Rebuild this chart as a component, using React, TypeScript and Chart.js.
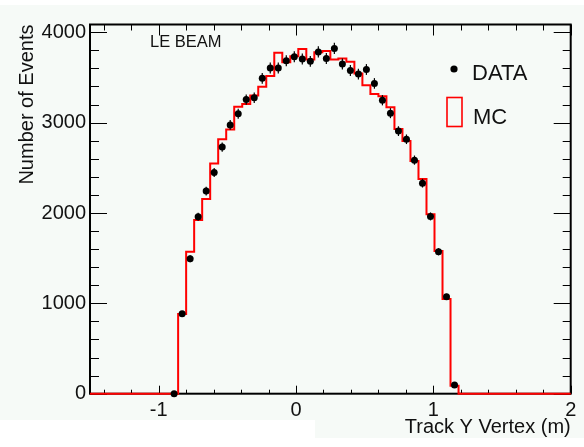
import React, { useEffect, useRef } from "react";
import { Chart, registerables } from "chart.js";

Chart.register(...registerables);

// ---- data ----
const X_MIN = -1.5;
const X_MAX = 2;
const N_BINS = 60;
const Y_MIN = 0;
const Y_MAX = 4086;
const X_TICKS = [-1, 0, 1, 2];
const Y_TICKS = [0, 1000, 2000, 3000, 4000];

// MC histogram: bin contents starting at bin index MC_FIRST_BIN (others are 0)
const MC_FIRST_BIN = 11;
const MC_COUNTS = [
  882, 1571, 1921, 2154, 2548, 2817, 2925, 3175, 3205, 3300,
  3396, 3515, 3772, 3668, 3736, 3815, 3699, 3780, 3794, 3699,
  3710, 3673, 3544, 3415, 3318, 3293, 3170, 2930, 2797, 2574,
  2375, 1987, 1578, 1048, 89,
];

// DATA points: bin contents starting at bin index DATA_FIRST_BIN
const DATA_FIRST_BIN = 10;
const DATA_COUNTS = [
  0, 885, 1493, 1958, 2242, 2449, 2729, 2975, 3098, 3255,
  3275, 3490, 3605, 3605, 3685, 3730, 3705, 3678, 3783, 3710,
  3821, 3648, 3577, 3537, 3588, 3434, 3248, 3105, 2906, 2816,
  2585, 2330, 1962, 1571, 1073, 96,
];

const LEGEND_LABELS = ["DATA", "MC"];
const PLOT_LABEL = "LE BEAM";
const X_TITLE = "Track Y Vertex (m)";
const Y_TITLE = "Number of Events";

// ---- styling ----
const W = 584;
const H = 447;
const FONT = "'Liberation Sans', Arial, Helvetica, sans-serif";
const TEXT = "#111111";
const RED = "#ff0000";
const BG = "rgb(246,250,247)";

const binWidth = (X_MAX - X_MIN) / N_BINS;

function mcPoints() {
  const pts: { x: number; y: number }[] = [];
  for (let k = 0; k < N_BINS; k++) {
    const i = k - MC_FIRST_BIN;
    const v = i >= 0 && i < MC_COUNTS.length ? MC_COUNTS[i] : 0;
    pts.push({ x: X_MIN + k * binWidth, y: v });
  }
  pts.push({ x: X_MAX, y: pts[pts.length - 1].y });
  return pts;
}

function dataPoints() {
  return DATA_COUNTS.map((v, i) => ({
    x: X_MIN + (DATA_FIRST_BIN + i + 0.5) * binWidth,
    y: v,
  }));
}

const framePlugin = {
  id: "rootFrame",
  beforeDatasetsDraw(chart: any) {
    const { ctx, chartArea: a, scales } = chart;
    const xs = scales.x;
    const ys = scales.y;
    ctx.save();
    ctx.strokeStyle = "#000";
    ctx.lineWidth = 1;
    for (let i = -7; i <= 10; i++) {
      const v = i * 0.2;
      const px = Math.round(xs.getPixelForValue(v)) + 0.5;
      const major = i % 5 === 0;
      ctx.beginPath();
      ctx.moveTo(px, a.bottom);
      ctx.lineTo(px, a.bottom - (major ? 8 : 4));
      ctx.moveTo(px, a.top);
      ctx.lineTo(px, a.top + (major ? 11 : 6));
      ctx.stroke();
    }
    for (let i = 0; i * 200 <= Y_MAX; i++) {
      const v = i * 200;
      const py = Math.round(ys.getPixelForValue(v)) + 0.5;
      const major = v % 1000 === 0;
      ctx.beginPath();
      ctx.moveTo(a.left, py);
      ctx.lineTo(a.left + (major ? 17 : 9), py);
      ctx.moveTo(a.right, py);
      ctx.lineTo(a.right - (major ? 17 : 8), py);
      ctx.stroke();
    }
    ctx.lineWidth = 2;
    ctx.strokeRect(a.left, a.top, a.right - a.left, a.bottom - a.top);
    ctx.restore();
  },
  afterDatasetDraw(chart: any, args: any) {
    if (args.index !== 1) return;
    const { ctx, scales } = chart;
    const meta = chart.getDatasetMeta(0);
    ctx.save();
    ctx.strokeStyle = "#000";
    ctx.lineWidth = 1.2;
    meta.data.forEach((pt: any, i: number) => {
      const v = DATA_COUNTS[i];
      if (v <= 0) return;
      const e = Math.sqrt(v);
      ctx.beginPath();
      ctx.moveTo(pt.x, scales.y.getPixelForValue(v + e));
      ctx.lineTo(pt.x, scales.y.getPixelForValue(v - e));
      ctx.stroke();
    });
    ctx.restore();
  },
  afterDraw(chart: any) {
    const { ctx } = chart;
    ctx.save();
    ctx.fillStyle = TEXT;
    ctx.textBaseline = "alphabetic";
    ctx.textAlign = "left";
    ctx.font = `16.5px ${FONT}`;
    ctx.fillText(PLOT_LABEL, 150, 47);
    ctx.font = `22px ${FONT}`;
    ctx.fillStyle = "#000";
    ctx.beginPath();
    ctx.arc(454, 69, 3.6, 0, Math.PI * 2);
    ctx.fill();
    ctx.fillStyle = TEXT;
    ctx.fillText(LEGEND_LABELS[0], 472, 80);
    ctx.strokeStyle = RED;
    ctx.lineWidth = 1.6;
    ctx.strokeRect(447, 97.5, 15, 29);
    ctx.fillText(LEGEND_LABELS[1], 473, 124);
    ctx.restore();
  },
};

export default function App() {
  const ref = useRef<HTMLCanvasElement | null>(null);

  useEffect(() => {
    document.body.style.margin = "0";
    const canvas = ref.current;
    if (!canvas) return;
    const font = { family: FONT, size: 20, lineHeight: 1.2 };
    const chart = new Chart(canvas, {
      type: "line",
      data: {
        datasets: [
          {
            label: LEGEND_LABELS[0],
            data: dataPoints(),
            showLine: false,
            pointRadius: 3.5,
            pointBackgroundColor: "#000",
            pointBorderWidth: 0,
            pointBorderColor: "#000",
            order: 0,
            clip: false,
          } as any,
          {
            label: LEGEND_LABELS[1],
            data: mcPoints(),
            stepped: "before",
            borderColor: RED,
            borderWidth: 2,
            pointRadius: 0,
            fill: false,
            order: 1,
            clip: false,
          } as any,
        ],
      },
      options: {
        responsive: false,
        animation: false,
        devicePixelRatio: 1,
        layout: { padding: { top: 24.5, right: 13.3, left: 0, bottom: 0 } },
        plugins: {
          legend: { display: false },
          tooltip: { enabled: false },
        },
        scales: {
          x: {
            type: "linear",
            min: X_MIN,
            max: X_MAX,
            position: "bottom",
            afterBuildTicks: (s: any) => {
              s.ticks = X_TICKS.map((v) => ({ value: v }));
            },
            afterFit: (s: any) => {
              s.height = H - 393.7;
            },
            grid: { display: false, drawTicks: false },
            border: { display: false },
            ticks: {
              font,
              color: TEXT,
              padding: 4.5,
              maxRotation: 0,
              autoSkip: false,
              callback: (v: any) => String(v),
            },
            title: {
              display: true,
              text: X_TITLE,
              align: "end",
              font,
              color: TEXT,
              padding: { top: 0, bottom: 8 },
            },
          },
          y: {
            type: "linear",
            min: Y_MIN,
            max: Y_MAX,
            position: "left",
            afterBuildTicks: (s: any) => {
              s.ticks = Y_TICKS.map((v) => ({ value: v }));
            },
            afterFit: (s: any) => {
              s.width = 90;
            },
            grid: { display: false, drawTicks: false },
            border: { display: false },
            ticks: {
              font,
              color: TEXT,
              padding: 4,
              autoSkip: false,
              callback: (v: any) => String(v),
            },
            title: {
              display: true,
              text: Y_TITLE,
              align: "end",
              font,
              color: TEXT,
              padding: { top: 15, bottom: 0 },
            },
          },
        },
      } as any,
      plugins: [framePlugin],
    });
    return () => chart.destroy();
  }, []);

  return (
    <div style={{ position: "fixed", left: 0, top: 0, width: W, height: H, background: "#fff" }}>
      <div style={{ position: "absolute", left: 0, top: 5, width: W, height: 433, background: BG }} />
      <div style={{ position: "absolute", left: 0, top: 420, width: 315, height: 27, background: "#fff" }} />
      <canvas ref={ref} width={W} height={H} style={{ position: "absolute", left: 0, top: 0, width: W, height: H }} />
    </div>
  );
}
